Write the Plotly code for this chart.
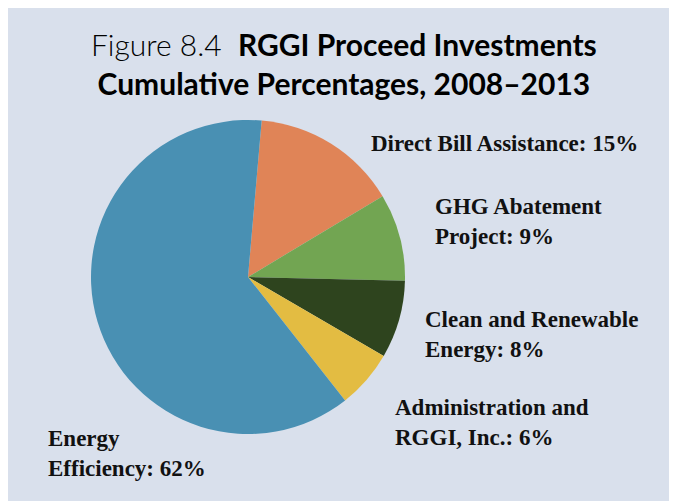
import plotly.graph_objects as go

# data
labels = ['Direct Bill Assistance', 'GHG Abatement Project', 'Clean and Renewable Energy',
          'Administration and RGGI, Inc.', 'Energy Efficiency']
values = [15, 9, 8, 6, 62]
colors = ['#e08457', '#72a552', '#2e441e', '#e3bc42', '#4990b3']

# label text as laid out in the figure (line breaks)
label_text = ['Direct Bill Assistance: 15%', 'GHG Abatement<br>Project: 9%',
              'Clean and Renewable<br>Energy: 8%', 'Administration and<br>RGGI, Inc.: 6%',
              'Energy<br>Efficiency: 62%']
# positions in page pixels (left edge, vertical centre)
label_pos = [(369, 143), (433, 222), (423, 334), (393, 422), (46, 453)]

title = 'Figure 8.4  <b>RGGI Proceed Investments</b><br><b>Cumulative Percentages, 2008\u20132013</b>'

W, H = 677, 501
OFF = 8  # page body margin shifts the figure by 8px
bg = '#d9e0ec'


def fx(v):
    return (v - OFF) / W


def fy(v):
    return 1 - (v - OFF) / H


fig = go.Figure(go.Pie(
    labels=labels, values=values, sort=False, direction='clockwise', rotation=5,
    marker=dict(colors=colors, line=dict(width=0)),
    textinfo='none', hoverinfo='label+percent',
    domain=dict(x=[fx(248 - 157), fx(248 + 157)], y=[fy(434), fy(120)]),
))

for txt, (px_, py_) in zip(label_text, label_pos):
    fig.add_annotation(text='<b>' + txt + '</b>', x=fx(px_), y=fy(py_), xref='paper', yref='paper',
                       xanchor='left', yanchor='middle', align='left', showarrow=False,
                       font=dict(family='Liberation Serif', size=23, color='#111111'))

fig.add_annotation(text=title, x=fx(344), y=fy(64), xref='paper', yref='paper',
                   xanchor='center', yanchor='middle', align='center', showarrow=False,
                   font=dict(family='Lato', size=30, color='#000000', weight=300))

fig.update_layout(width=W, height=H, margin=dict(l=0, r=0, t=0, b=0),
                  paper_bgcolor=bg, plot_bgcolor=bg, showlegend=False)

fig.write_html('out.html')
